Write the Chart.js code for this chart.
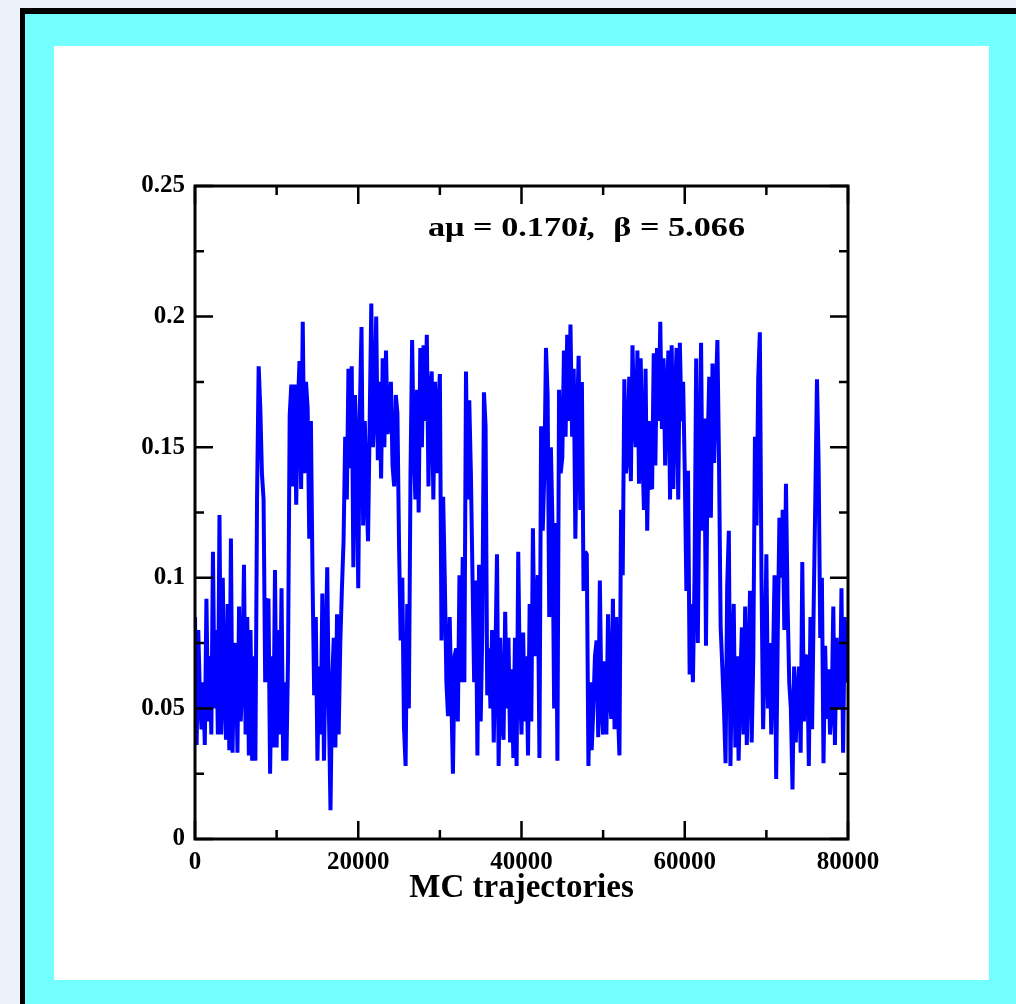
<!DOCTYPE html>
<html>
<head>
<meta charset="utf-8">
<script src="https://cdn.jsdelivr.net/npm/chart.js@4.4.1/dist/chart.umd.min.js"></script>
<style>
  html, body { margin: 0; padding: 0; width: 1016px; height: 1004px; overflow: hidden; background: #edf1f9; }
  #black { position: absolute; left: 20px; top: 8px; width: 1100px; height: 1100px; background: #000; }
  #cyan { position: absolute; left: 25px; top: 14px; width: 1100px; height: 1100px; background: #73ffff; }
  #white { position: absolute; left: 54px; top: 46px; width: 935px; height: 934px; background: #fff; }
  #wrap { position: relative; width: 935px; height: 934px; }
</style>
</head>
<body>
<div id="black"></div>
<div id="cyan"></div>
<div id="white"><div id="wrap"><canvas id="chart"></canvas></div></div>
<script>
// one measurement every 200 MC trajectories
const sampleEvery = 200;

// values, 5 per 1000 trajectories
const orderParam = [
  0.085, 0.036, 0.08, 0.055, 0.042,   0.06, 0.036, 0.092, 0.045, 0.07,    0.04, 0.11, 0.05, 0.08, 0.04,
  0.124, 0.04, 0.1, 0.055, 0.038,     0.09, 0.034, 0.115, 0.033, 0.07,    0.075, 0.033, 0.089, 0.045, 0.06,
  0.105, 0.04, 0.085, 0.032, 0.08,    0.03, 0.07, 0.03, 0.13, 0.181,      0.165, 0.14, 0.13, 0.06, 0.09,
  0.092, 0.025, 0.07, 0.035, 0.103,   0.035, 0.08, 0.04, 0.096, 0.03,     0.06, 0.03, 0.07, 0.162, 0.174,
  0.135, 0.174, 0.128, 0.165, 0.183,  0.134, 0.198, 0.14, 0.175, 0.165,   0.115, 0.16, 0.10, 0.055, 0.085,
  0.03, 0.066, 0.04, 0.094, 0.03,     0.07, 0.104, 0.05, 0.011, 0.06,     0.077, 0.035, 0.086, 0.04, 0.075,
  0.096, 0.114, 0.154, 0.13, 0.18,    0.142, 0.181, 0.104, 0.17, 0.15,    0.096, 0.165, 0.196, 0.12, 0.16,
  0.134, 0.114, 0.16, 0.205, 0.15,    0.165, 0.2, 0.145, 0.175, 0.138,    0.184, 0.15, 0.187, 0.155, 0.162,
  0.175, 0.143, 0.135, 0.17, 0.163,   0.112, 0.076, 0.1, 0.043, 0.028,    0.09, 0.05, 0.139, 0.191, 0.15,
  0.13, 0.172, 0.125, 0.188, 0.15,    0.189, 0.16, 0.193, 0.135, 0.17,   0.179, 0.13, 0.175, 0.14, 0.165,
  0.178, 0.076, 0.131, 0.1, 0.06,     0.047, 0.085, 0.055, 0.025, 0.07,   0.073, 0.045, 0.101, 0.06, 0.108,
  0.06, 0.179, 0.13, 0.168, 0.14,     0.1, 0.06, 0.099, 0.032, 0.105,     0.045, 0.08, 0.171, 0.158, 0.055,
  0.073, 0.05, 0.08, 0.037, 0.07,     0.109, 0.028, 0.077, 0.045, 0.038,  0.087, 0.05, 0.077, 0.037, 0.065,
  0.031, 0.077, 0.028, 0.11, 0.06,    0.04, 0.079, 0.045, 0.07, 0.032,    0.09, 0.045, 0.119, 0.07, 0.085,
  0.101, 0.031, 0.158, 0.118, 0.14,   0.188, 0.17, 0.085, 0.15, 0.12,     0.05, 0.121, 0.03, 0.172, 0.14,
  0.146, 0.187, 0.154, 0.193, 0.16,   0.197, 0.154, 0.18, 0.115, 0.16,    0.185, 0.126, 0.175, 0.095, 0.11,
  0.109, 0.028, 0.06, 0.034, 0.05,    0.07, 0.076, 0.039, 0.099, 0.05,    0.04, 0.068, 0.04, 0.086, 0.055,
  0.046, 0.092, 0.042, 0.085, 0.05,   0.032, 0.126, 0.101, 0.176, 0.14,   0.147, 0.177, 0.137, 0.189, 0.16,
  0.15, 0.187, 0.136, 0.184, 0.15,    0.126, 0.18, 0.118, 0.16, 0.135,    0.134, 0.186, 0.143, 0.188, 0.16,
  0.198, 0.157, 0.184, 0.143, 0.17,   0.187, 0.13, 0.189, 0.134, 0.17,    0.188, 0.13, 0.19, 0.16, 0.175,
  0.141, 0.095, 0.141, 0.063, 0.09,   0.06, 0.1, 0.184, 0.075, 0.14,      0.19, 0.118, 0.161, 0.074, 0.15,
  0.177, 0.123, 0.182, 0.144, 0.17,   0.191, 0.144, 0.081, 0.066, 0.05,   0.029, 0.097, 0.118, 0.028, 0.07,
  0.09, 0.035, 0.07, 0.03, 0.06,      0.081, 0.04, 0.089, 0.036, 0.065,   0.095, 0.037, 0.07, 0.154, 0.12,
  0.176, 0.194, 0.1, 0.042, 0.07,     0.109, 0.05, 0.075, 0.04, 0.065,    0.101, 0.023, 0.08, 0.123, 0.1,
  0.126, 0.08, 0.136, 0.09, 0.06,     0.05, 0.019, 0.066, 0.037, 0.055,   0.066, 0.033, 0.106, 0.045, 0.07,
  0.07, 0.028, 0.085, 0.042, 0.09,    0.131, 0.176, 0.144, 0.077, 0.1,    0.029, 0.074, 0.046, 0.065, 0.04,
  0.05, 0.089, 0.036, 0.077, 0.055,   0.05, 0.096, 0.033, 0.085, 0.06,    0.07
];

const xMajorTicks = [0, 20000, 40000, 60000, 80000];
const xMinorTicks = [10000, 30000, 50000, 70000];
const xTickLabels = ['0', '20000', '40000', '60000', '80000'];
const yMajorTicks = [0, 0.05, 0.1, 0.15, 0.2, 0.25];
const yMinorTicks = [0.025, 0.075, 0.125, 0.175, 0.225];
const yTickLabels = ['0', '0.05', '0.1', '0.15', '0.2', '0.25'];

const serif = "'Liberation Serif', 'Times New Roman', serif";

const points = orderParam.map((v, i) => ({ x: i * sampleEvery, y: v }));

// frame on all four sides with inward ticks, like xmgrace
const frameTicks = {
  id: 'frameTicks',
  afterDatasetsDraw(chart) {
    const { ctx, chartArea: a, scales } = chart;
    const major = 18, minor = 9;
    ctx.save();
    ctx.strokeStyle = '#000';
    ctx.lineWidth = 2.5;
    ctx.beginPath();
    const xt = (v, len) => {
      const px = scales.x.getPixelForValue(v);
      ctx.moveTo(px, a.bottom); ctx.lineTo(px, a.bottom - len);
      ctx.moveTo(px, a.top); ctx.lineTo(px, a.top + len);
    };
    const yt = (v, len) => {
      const py = scales.y.getPixelForValue(v);
      ctx.moveTo(a.left, py); ctx.lineTo(a.left + len, py);
      ctx.moveTo(a.right, py); ctx.lineTo(a.right - len, py);
    };
    xMajorTicks.forEach(v => xt(v, major));
    xMinorTicks.forEach(v => xt(v, minor));
    yMajorTicks.forEach(v => yt(v, major));
    yMinorTicks.forEach(v => yt(v, minor));
    ctx.stroke();
    ctx.lineWidth = 3;
    ctx.strokeRect(a.left, a.top, a.right - a.left, a.bottom - a.top);
    ctx.restore();
  }
};

// "aμ = 0.170i,  β = 5.066" label in the upper right
const annotation = {
  id: 'annotation',
  afterDraw(chart) {
    const { ctx } = chart;
    const parts = [
      { t: 'a\u03bc = 0.170', f: 'bold 28px ' + serif },
      { t: 'i,', f: 'italic bold 28px ' + serif },
      { t: '  \u03b2 = 5.066', f: 'bold 28px ' + serif }
    ];
    ctx.save();
    let w = 0;
    parts.forEach(p => { ctx.font = p.f; w += ctx.measureText(p.t).width; });
    const targetW = 317;
    ctx.translate(374, 190);
    ctx.scale(targetW / w, 1);
    ctx.fillStyle = '#000';
    ctx.textBaseline = 'alphabetic';
    let x = 0;
    parts.forEach(p => {
      ctx.font = p.f;
      ctx.fillText(p.t, x, 0);
      x += ctx.measureText(p.t).width;
    });
    ctx.restore();
  }
};

new Chart(document.getElementById('chart'), {
  type: 'line',
  data: {
    datasets: [{
      data: points,
      borderColor: '#0000ff',
      borderWidth: 4,
      borderJoinStyle: 'bevel',
      pointRadius: 0,
      tension: 0,
      fill: false
    }]
  },
  options: {
    responsive: true,
    maintainAspectRatio: false,
    animation: false,
    layout: { padding: { left: 0, top: 140, right: 141, bottom: 72 } },
    plugins: { legend: { display: false }, tooltip: { enabled: false } },
    scales: {
      x: {
        type: 'linear',
        min: 0,
        max: 80000,
        afterBuildTicks: axis => { axis.ticks = xMajorTicks.map(v => ({ value: v })); },
        afterFit: axis => { axis.height = 69; },
        grid: { display: false, drawTicks: false },
        border: { display: false },
        ticks: {
          color: '#000',
          font: { family: serif, size: 25, weight: 'bold' },
          padding: 9,
          maxRotation: 0,
          autoSkip: false,
          callback: (v, i) => xTickLabels[i]
        },
        title: {
          display: true,
          text: 'MC trajectories',
          color: '#000',
          font: { family: serif, size: 33, weight: 'bold' },
          padding: 0
        }
      },
      y: {
        type: 'linear',
        min: 0,
        max: 0.25,
        afterBuildTicks: axis => { axis.ticks = yMajorTicks.map(v => ({ value: v })); },
        afterFit: axis => { axis.width = 141; },
        grid: { display: false, drawTicks: false },
        border: { display: false },
        ticks: {
          color: '#000',
          font: { family: serif, size: 25, weight: 'bold' },
          padding: 10,
          autoSkip: false,
          callback: (v, i) => yTickLabels[i]
        }
      }
    }
  },
  plugins: [frameTicks, annotation]
});
</script>
</body>
</html>
